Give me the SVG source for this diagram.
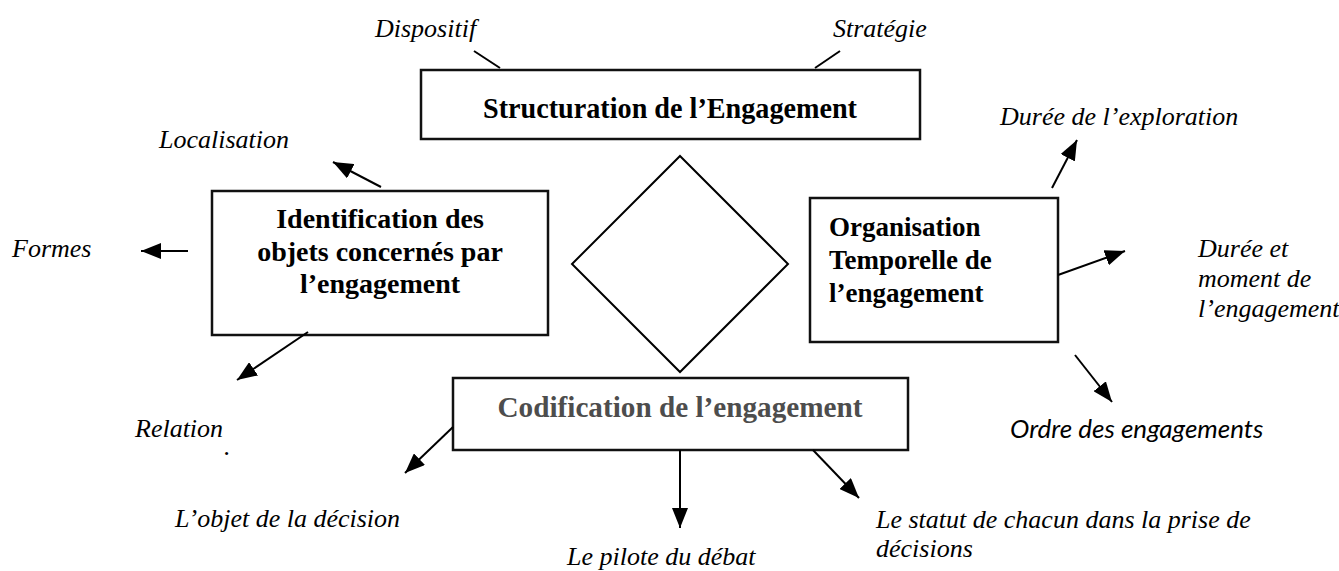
<svg xmlns="http://www.w3.org/2000/svg" width="1339" height="571" viewBox="0 0 1339 571">
  <style>
    .box { fill: #ffffff; stroke: #111111; stroke-width: 2.5; }
    .title { font-family: "Liberation Serif", "Times New Roman", serif; font-weight: bold; fill: #000000; }
    .label { font-family: "Liberation Serif", "Times New Roman", serif; font-style: italic; font-size: 26px; fill: #000000; }
    .label-sans { font-family: Lato, "Open Sans", sans-serif; font-style: italic; font-size: 26px; fill: #000000; }
    .link { stroke: #000000; stroke-width: 2; fill: none; }
    .arrow { stroke: #000000; stroke-width: 2; fill: none; marker-end: url(#head); }
  </style>
  <defs>
    <marker id="head" viewBox="0 0 20 16" refX="20" refY="8" markerWidth="20" markerHeight="16" markerUnits="userSpaceOnUse" orient="auto">
      <path d="M0,0 L20,8 L0,16 z" fill="#000000"/>
    </marker>
  </defs>

  <rect width="1339" height="571" fill="#ffffff"/>

  <!-- central diamond -->
  <g id="centre">
    <polygon points="680,156 788,264 680,372 572,264" fill="#ffffff" stroke="#000000" stroke-width="2"/>
  </g>

  <!-- top node -->
  <g id="structuration">
    <rect class="box" x="421" y="70" width="499" height="69"/>
    <text class="title" x="670" y="118" font-size="29" text-anchor="middle" textLength="374" lengthAdjust="spacingAndGlyphs">Structuration de l’Engagement</text>
  </g>

  <!-- left node -->
  <g id="identification">
    <rect class="box" x="212" y="191" width="336" height="144"/>
    <text class="title" x="380" y="228" font-size="28" text-anchor="middle">Identification des</text>
    <text class="title" x="380" y="261" font-size="28" text-anchor="middle">objets concernés par</text>
    <text class="title" x="380" y="293" font-size="28" text-anchor="middle">l’engagement</text>
  </g>

  <!-- right node -->
  <g id="organisation">
    <rect class="box" x="810" y="198" width="248" height="144"/>
    <text class="title" x="829" y="236" font-size="27">Organisation</text>
    <text class="title" x="829" y="269" font-size="27">Temporelle de</text>
    <text class="title" x="829" y="302" font-size="27">l’engagement</text>
  </g>

  <!-- bottom node -->
  <g id="codification">
    <rect class="box" x="453" y="378" width="455" height="72"/>
    <text class="title" x="680" y="417" font-size="30" text-anchor="middle" textLength="365" lengthAdjust="spacingAndGlyphs" style="fill:#4d4d4d">Codification de l’engagement</text>
  </g>

  <!-- outer labels -->
  <g id="labels">
    <text class="label" x="375" y="37">Dispositif</text>
    <text class="label" x="833" y="37">Stratégie</text>
    <text class="label" x="159" y="148">Localisation</text>
    <text class="label" x="12" y="257">Formes</text>
    <text class="label" x="135" y="437">Relation</text>
    <text class="label" x="224" y="455" font-size="12">.</text>
    <text class="label" x="1000" y="125">Durée de l’exploration</text>
    <text class="label" x="1198" y="257">Durée et</text>
    <text class="label" x="1198" y="287">moment de</text>
    <text class="label" x="1198" y="317">l’engagement</text>
    <text class="label-sans" x="1010" y="438">Ordre des engagements</text>
    <text class="label" x="175" y="527">L’objet de la décision</text>
    <text class="label" x="567" y="565">Le pilote du débat</text>
    <text class="label" x="876" y="528">Le statut de chacun dans la prise de</text>
    <text class="label" x="876" y="557">décisions</text>
  </g>

  <!-- connectors -->
  <g id="connectors">
    <line class="link" x1="474" y1="51" x2="500" y2="68"/>
    <line class="link" x1="840" y1="51" x2="815" y2="68"/>
    <line class="arrow" x1="381" y1="187" x2="333" y2="162"/>
    <line class="arrow" x1="188" y1="251" x2="141" y2="251"/>
    <line class="arrow" x1="308" y1="332" x2="237" y2="380"/>
    <line class="arrow" x1="1052" y1="188" x2="1077" y2="140"/>
    <line class="arrow" x1="1058" y1="275" x2="1125" y2="251"/>
    <line class="arrow" x1="1075" y1="355" x2="1112" y2="402"/>
    <line class="arrow" x1="453" y1="427" x2="405" y2="473"/>
    <line class="arrow" x1="680" y1="450" x2="680" y2="528"/>
    <line class="arrow" x1="813" y1="450" x2="859" y2="498"/>
  </g>
</svg>
